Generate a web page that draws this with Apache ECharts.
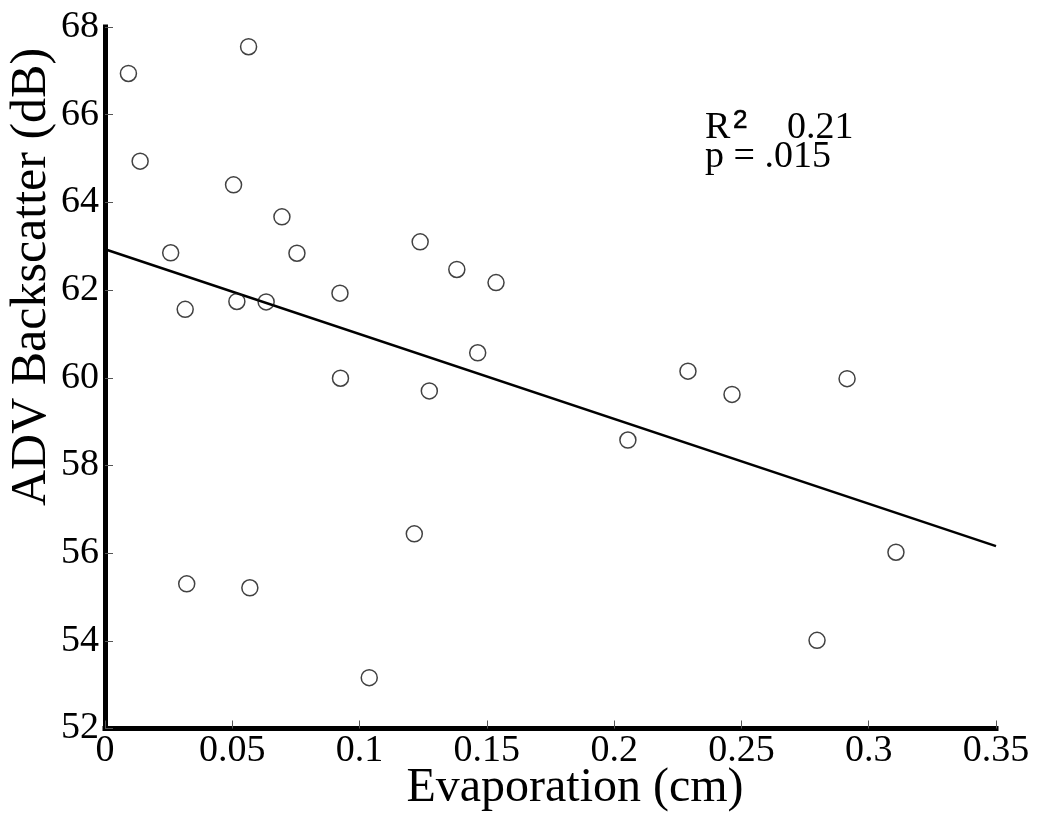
<!DOCTYPE html>
<html>
<head>
<meta charset="utf-8">
<script src="https://cdn.jsdelivr.net/npm/echarts@6/dist/echarts.min.js"></script>
<style>
html,body{margin:0;padding:0;background:#fff;}
#chart{width:1038px;height:829px;}
</style>
</head>
<body>
<div id="chart"></div>
<script>
// Evaporation (cm)
const evaporation = [0.0092, 0.0564, 0.0138, 0.0505, 0.0695, 0.0258, 0.0754, 0.0315, 0.0518, 0.0633,
  0.1238, 0.1382, 0.1536, 0.0923, 0.1464, 0.0925, 0.1274, 0.0321, 0.0569, 0.1215, 0.1038,
  0.2290, 0.2463, 0.2915, 0.2054, 0.3107, 0.2797];
// ADV Backscatter (dB)
const backscatter = [66.94, 67.55, 64.94, 64.40, 63.67, 62.85, 62.84, 61.56, 61.74, 61.73,
  63.10, 62.47, 62.17, 61.93, 60.57, 59.99, 59.70, 55.30, 55.21, 56.44, 53.16,
  60.15, 59.62, 59.98, 58.58, 56.02, 54.01];
// Regression line end points
const fitX = [0, 0.35];
const fitY = [62.93, 56.16];

const serif = "'Liberation Serif','Times New Roman',serif";
const chart = echarts.init(document.getElementById('chart'), null, {renderer: 'canvas'});
chart.setOption({
  animation: false,
  backgroundColor: '#fff',
  grid: {left: 105, right: 42, top: 27, bottom: 100.5, containLabel: false},
  xAxis: {
    type: 'value', min: 0, max: 0.35, interval: 0.05,
    axisLine: {show: true, onZero: false, lineStyle: {color: '#000', width: 5, cap: 'square'}},
    axisTick: {show: true, inside: true, length: 8, lineStyle: {color: '#555', width: 1}},
    axisLabel: {color: '#000', fontFamily: serif, fontSize: 38, margin: 4},
    splitLine: {show: false}
  },
  yAxis: {
    type: 'value', min: 52, max: 68, interval: 2,
    axisLine: {show: true, onZero: false, lineStyle: {color: '#000', width: 5, cap: 'square'}},
    axisTick: {show: true, inside: true, length: 8, lineStyle: {color: '#555', width: 1}},
    axisLabel: {color: '#000', fontFamily: serif, fontSize: 38, margin: 6},
    splitLine: {show: false}
  },
  series: [
    {
      type: 'scatter',
      data: evaporation.map((x, i) => [x, backscatter[i]]),
      symbol: 'circle',
      symbolSize: 16,
      itemStyle: {color: 'rgba(255,255,255,0)', borderColor: '#111', borderWidth: 1.5},
      z: 3
    },
    {
      type: 'line',
      data: fitX.map((x, i) => [x, fitY[i]]),
      showSymbol: false,
      symbol: 'none',
      lineStyle: {color: '#000', width: 2.5},
      z: 2
    }
  ],
  graphic: [
    {type: 'text', x: 575, y: 788, style: {text: 'Evaporation (cm)', font: "48px " + serif, fill: '#000', align: 'center', verticalAlign: 'middle'}},
    {type: 'text', x: 32, y: 277, rotation: Math.PI / 2, style: {text: 'ADV Backscatter (dB)', font: "50px " + serif, fill: '#000', align: 'center', verticalAlign: 'middle'}},
    {type: 'text', x: 705, y: 128, style: {text: 'R', font: "38px " + serif, fill: '#000', align: 'left', verticalAlign: 'middle'}},
    {type: 'text', x: 733, y: 121, style: {text: '2', font: "26px 'Liberation Sans',Arial,sans-serif", fill: '#000', stroke: '#000', lineWidth: 0.6, align: 'left', verticalAlign: 'middle'}},
    {type: 'text', x: 787, y: 128, style: {text: '0.21', font: "38px " + serif, fill: '#000', align: 'left', verticalAlign: 'middle'}},
    {type: 'text', x: 705, y: 157, style: {text: 'p = .015', font: "38px " + serif, fill: '#000', align: 'left', verticalAlign: 'middle'}}
  ]
});
</script>
</body>
</html>
